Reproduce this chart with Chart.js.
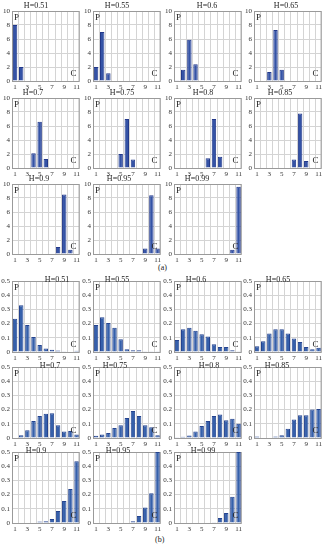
<!DOCTYPE html>
<html>
<head>
<meta charset="utf-8">
<script src="https://cdn.jsdelivr.net/npm/chart.js@4.4.0/dist/chart.umd.min.js"></script>
<style>
  body { margin: 0; background: #fff; }
  #fig { position: relative; width: 324px; height: 550px; overflow: hidden; }
  #fig canvas { position: absolute; }
  .cap { position: absolute; font: 8px "Liberation Serif", serif; color: #222; }
</style>
</head>
<body>
<div id="fig">
  <div class="cap" style="left:158px;top:263px">(a)</div>
  <div class="cap" style="left:155px;top:535px">(b)</div>
</div>
<script>
const categories = ['1', '2', '3', '4', '5', '6', '7', '8', '9', '10', '11'];
const yTicksA = [0, 2, 4, 6, 8, 10];
const yTicksB = [0, 0.1, 0.2, 0.3, 0.4, 0.5];
const titles = ['H=0.51', 'H=0.55', 'H=0.6', 'H=0.65', 'H=0.7', 'H=0.75', 'H=0.8', 'H=0.85', 'H=0.9', 'H=0.95', 'H=0.99'];

// (a) values, 0..10
const a051 = [8.0, 2.0, 0, 0, 0, 0, 0, 0, 0, 0, 0];
const a055 = [2.0, 7.0, 1.1, 0, 0, 0, 0, 0, 0, 0, 0];
const a060 = [0.1, 1.6, 5.9, 2.4, 0, 0, 0, 0, 0, 0, 0];
const a065 = [0, 0, 1.3, 7.3, 1.6, 0, 0, 0, 0, 0, 0];
const a070 = [0, 0, 0, 2.1, 6.6, 1.3, 0, 0, 0, 0, 0];
const a075 = [0, 0, 0, 0, 2.0, 7.0, 1.2, 0, 0, 0, 0];
const a080 = [0, 0, 0, 0, 0, 1.4, 7.0, 1.6, 0, 0, 0];
const a085 = [0, 0, 0, 0, 0, 0, 1.2, 7.8, 1.0, 0, 0];
const a090 = [0, 0, 0, 0, 0, 0, 0, 1.0, 8.5, 0.6, 0];
const a095 = [0, 0, 0, 0, 0, 0, 0, 0, 0.8, 8.4, 0.8];
const a099 = [0, 0, 0, 0, 0, 0, 0, 0, 0, 0.6, 9.6];

// (b) values, 0..0.5
const b051 = [0.235, 0.33, 0.19, 0.105, 0.05, 0.025, 0.015, 0.01, 0.005, 0.003, 0.008];
const b055 = [0.19, 0.245, 0.205, 0.17, 0.09, 0.02, 0.012, 0.012, 0.005, 0.005, 0.005];
const b060 = [0.085, 0.16, 0.17, 0.15, 0.125, 0.11, 0.055, 0.035, 0.035, 0.012, 0.005];
const b065 = [0.04, 0.075, 0.13, 0.16, 0.16, 0.13, 0.095, 0.07, 0.035, 0.02, 0.03];
const b070 = [0, 0.02, 0.055, 0.12, 0.155, 0.17, 0.175, 0.09, 0.045, 0.05, 0.025];
const b075 = [0.015, 0.025, 0.035, 0.07, 0.09, 0.14, 0.19, 0.155, 0.09, 0.075, 0.02];
const b080 = [0.002, 0.008, 0.018, 0.045, 0.085, 0.12, 0.155, 0.165, 0.125, 0.135, 0.1];
const b085 = [0.01, 0.004, 0.004, 0.01, 0.02, 0.065, 0.13, 0.16, 0.16, 0.2, 0.205];
const b090 = [0, 0, 0, 0, 0.01, 0.012, 0.028, 0.085, 0.155, 0.24, 0.435];
const b095 = [0, 0, 0, 0, 0, 0, 0.012, 0.05, 0.11, 0.21, 0.5];
const b099 = [0, 0, 0, 0, 0, 0, 0.005, 0.035, 0.07, 0.185, 0.5];

const seriesA = [a051, a055, a060, a065, a070, a075, a080, a085, a090, a095, a099];
const seriesB = [b051, b055, b060, b065, b070, b075, b080, b085, b090, b095, b099];

// layout of the panels
const colLeft = [12, 93, 174, 254];
const rowTopA = [11, 98, 184];
const rowTopB = [281, 367, 452];
const titleXA = [36, 117, 207, 286, 33, 122, 203, 280, 39, 119, 197];
const titleXB = [57, 117, 196, 278, 50, 115, 209, 277, 36, 118, 203];

const fig = document.getElementById('fig');
const serif = '"Liberation Serif", "DejaVu Serif", serif';

const panelDecor = {
  id: 'panelDecor',
  beforeDatasetsDraw(chart) {
    const a = chart.chartArea, ctx = chart.ctx;
    ctx.save();
    ctx.strokeStyle = '#9a9a9a';
    ctx.lineWidth = 1;
    ctx.strokeRect(a.left + 0.5, a.top + 0.5, a.right - a.left - 1, a.bottom - a.top);
    ctx.restore();
  },
  afterDraw(chart, args, opts) {
    const a = chart.chartArea, ctx = chart.ctx;
    ctx.save();
    ctx.fillStyle = '#222';
    ctx.font = '8px ' + serif;
    ctx.textAlign = 'center';
    ctx.textBaseline = 'middle';
    ctx.fillText(opts.title, opts.titleX, a.top + opts.titleDy);
    ctx.textAlign = 'left';
    ctx.font = '9px ' + serif;
    ctx.fillText('P', a.left + 2, a.top + 7);
    ctx.fillText('C', a.right - 9, a.bottom - 7);
    ctx.restore();
  }
};

function makePanel(values, yTicks, title, left, plotTop, plotH, titleX, titleDy, color, border) {
  const padTop = 10;
  const canvas = document.createElement('canvas');
  const w = 12 + 68 + 2, h = padTop + plotH + 10;
  canvas.width = w; canvas.height = h;
  canvas.style.left = (left - 12) + 'px';
  canvas.style.top = (plotTop - padTop) + 'px';
  canvas.style.width = w + 'px';
  canvas.style.height = h + 'px';
  fig.appendChild(canvas);
  new Chart(canvas, {
    type: 'bar',
    data: {
      labels: categories,
      datasets: [{
        data: values,
        backgroundColor: color,
        borderColor: border,
        borderWidth: 1,
        barPercentage: 0.72,
        categoryPercentage: 1
      }]
    },
    options: {
      responsive: false,
      animation: false,
      layout: { padding: { top: padTop, right: 2, left: 0, bottom: 0 } },
      plugins: {
        legend: { display: false },
        tooltip: { enabled: false },
        panelDecor: { title: title, titleX: titleX - (left - 12), titleDy: titleDy }
      },
      scales: {
        x: {
          grid: { color: '#d4d4d4', drawTicks: false, offset: true },
          border: { display: false },
          ticks: {
            autoSkip: false, maxRotation: 0, padding: 2,
            color: '#333', font: { size: 7, family: serif },
            callback: (v, i) => (i % 2 === 0 ? categories[i] : '')
          },
          afterFit: s => { s.height = 10; }
        },
        y: {
          min: yTicks[0], max: yTicks[yTicks.length - 1],
          grid: { color: '#d4d4d4', drawTicks: false },
          border: { display: false },
          ticks: { padding: 2, color: '#333', font: { size: 7, family: serif }, callback: v => String(v) },
          afterBuildTicks: s => { s.ticks = yTicks.map(v => ({ value: v })); },
          afterFit: s => { s.width = 12; }
        }
      }
    },
    plugins: [panelDecor]
  });
}

seriesA.forEach((vals, i) => {
  const r = Math.floor(i / 4), c = i % 4;
  makePanel(vals, yTicksA, titles[i], colLeft[c], rowTopA[r], 70, titleXA[i], -5, '#3453a6', '#22388a');
});
seriesB.forEach((vals, i) => {
  const r = Math.floor(i / 4), c = i % 4;
  makePanel(vals, yTicksB, titles[i], colLeft[c], rowTopB[r], 71, titleXB[i], -1, '#3560ab', '#24438f');
});
</script>
</body>
</html>
